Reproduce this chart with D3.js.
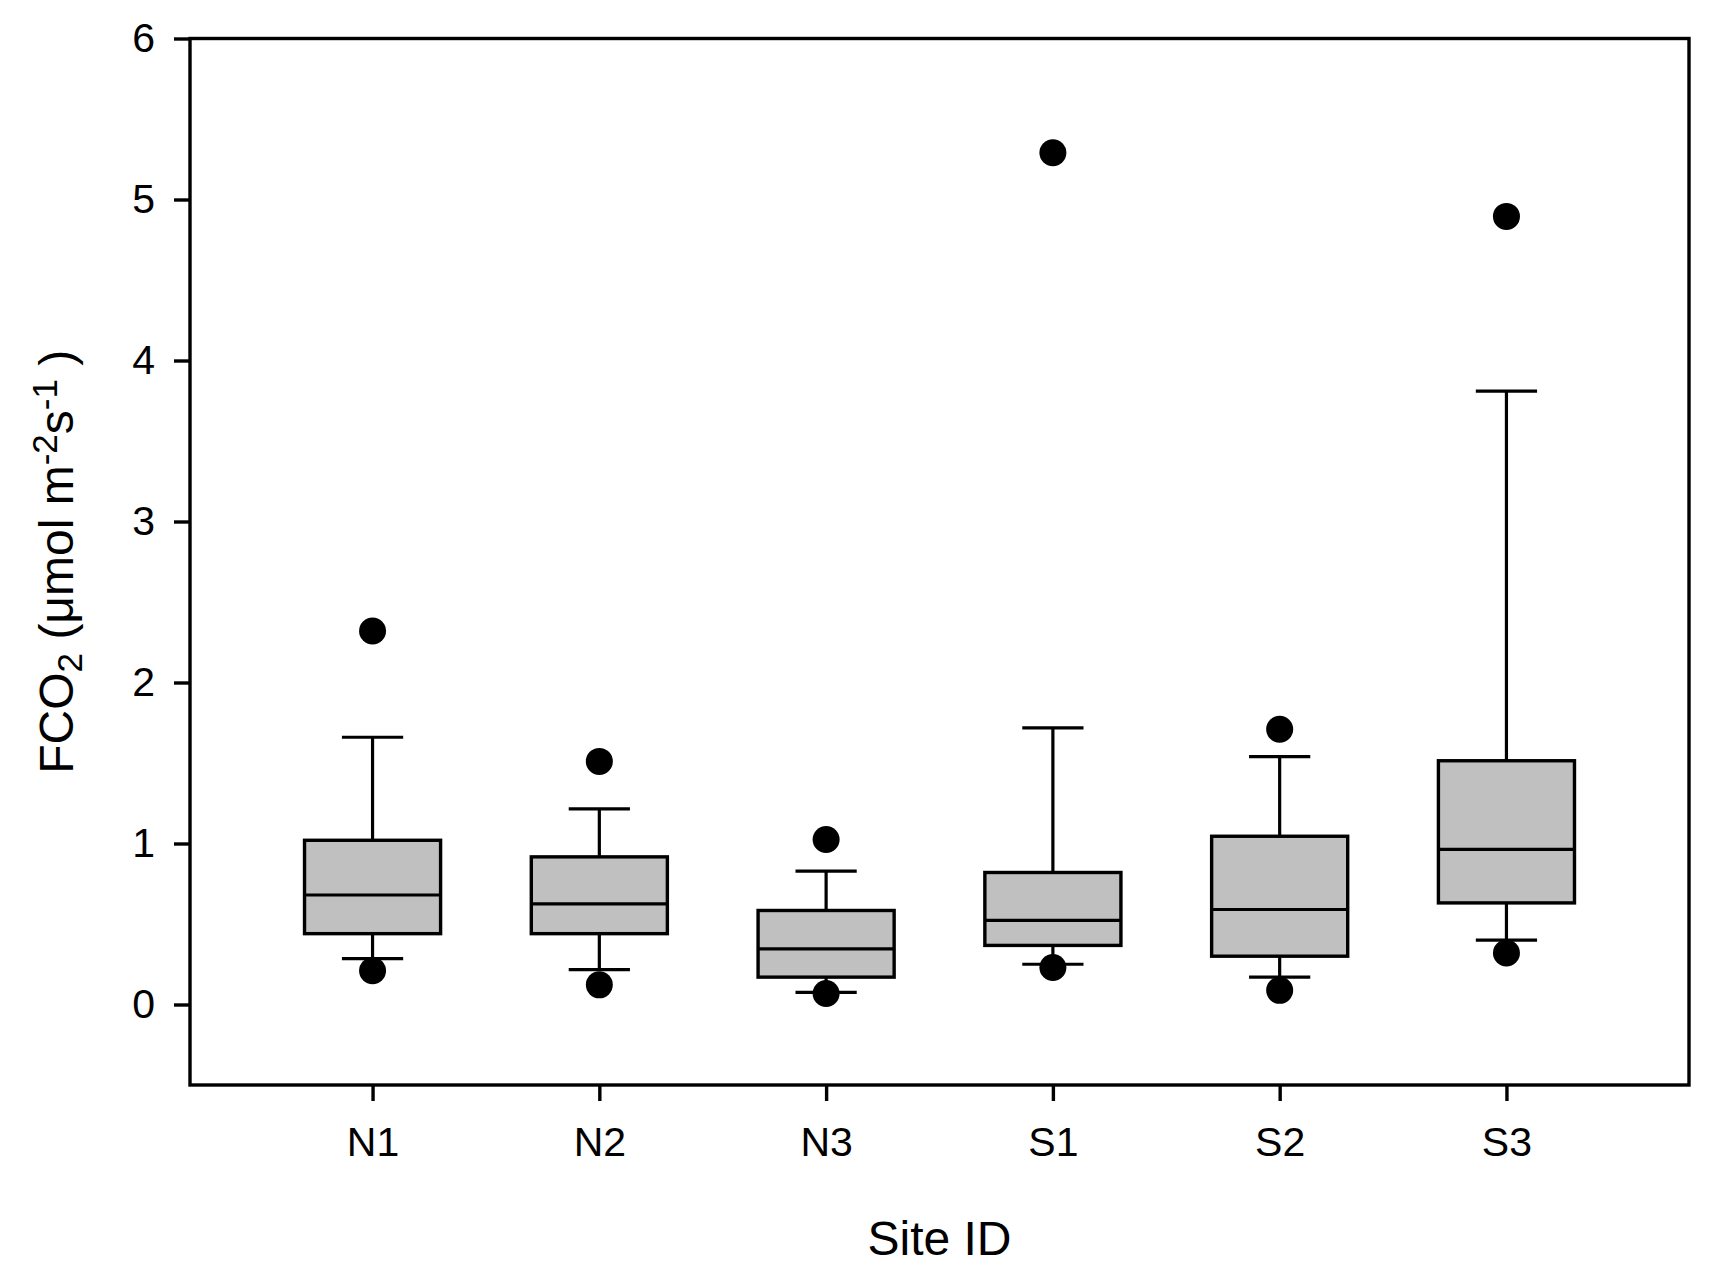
<!DOCTYPE html>
<html><head><meta charset="utf-8">
<script src="https://cdn.jsdelivr.net/npm/d3@7"></script>
<style>body{margin:0;background:#fff}svg{display:block}</style>
</head><body>
<script>
const sites   = ["N1","N2","N3","S1","S2","S3"];
const whiskLo = [0.285,0.217,0.075,0.25,0.17,0.40];
const q1      = [0.44,0.44,0.17,0.367,0.30,0.631];
const median  = [0.68,0.625,0.346,0.523,0.59,0.964];
const q3      = [1.02,0.917,0.584,0.82,1.045,1.514];
const whiskHi = [1.66,1.215,0.828,1.718,1.54,3.81];
const outLo   = [0.21,0.122,0.068,0.23,0.088,0.32];
const outHi   = [2.32,1.51,1.025,5.29,1.71,4.895];
const yTicks  = [0,1,2,3,4,5,6];

const W=1715,H=1276;
const m={l:190,r:1689,t:38.5,b:1085};
const svg=d3.select("body").append("svg").attr("width",W).attr("height",H);
const x=d3.scalePoint().domain(sites).range([m.l,m.r]).padding(0.805);
const y=d3.scaleLinear().domain([-0.5,6]).range([m.b,m.t]);
const step=x.step(), bw=step*0.6, cw=step*0.27;
const font="'Liberation Sans', Arial, sans-serif";

const data=sites.map((s,i)=>({s,lo:whiskLo[i],q1:q1[i],md:median[i],q3:q3[i],hi:whiskHi[i],ol:outLo[i],oh:outHi[i]}));
const g=svg.append("g");
const bx=g.selectAll("g.b").data(data).join("g").attr("stroke","#000").attr("stroke-width",3.2);
bx.append("line").attr("x1",d=>x(d.s)).attr("x2",d=>x(d.s)).attr("y1",d=>y(d.hi)).attr("y2",d=>y(d.q3));
bx.append("line").attr("x1",d=>x(d.s)).attr("x2",d=>x(d.s)).attr("y1",d=>y(d.q1)).attr("y2",d=>y(d.lo));
bx.append("line").attr("x1",d=>x(d.s)-cw/2).attr("x2",d=>x(d.s)+cw/2).attr("y1",d=>y(d.hi)).attr("y2",d=>y(d.hi));
bx.append("line").attr("x1",d=>x(d.s)-cw/2).attr("x2",d=>x(d.s)+cw/2).attr("y1",d=>y(d.lo)).attr("y2",d=>y(d.lo));
bx.append("rect").attr("x",d=>x(d.s)-bw/2).attr("width",bw).attr("y",d=>y(d.q3)).attr("height",d=>y(d.q1)-y(d.q3)).attr("fill","#c0c0c0").attr("stroke-width",3.4);
bx.append("line").attr("x1",d=>x(d.s)-bw/2).attr("x2",d=>x(d.s)+bw/2).attr("y1",d=>y(d.md)).attr("y2",d=>y(d.md));
bx.append("circle").attr("cx",d=>x(d.s)).attr("cy",d=>y(d.ol)).attr("r",13.5).attr("fill","#000").attr("stroke","none");
bx.append("circle").attr("cx",d=>x(d.s)).attr("cy",d=>y(d.oh)).attr("r",13.5).attr("fill","#000").attr("stroke","none");

// frame
svg.append("rect").attr("x",m.l).attr("y",m.t).attr("width",m.r-m.l).attr("height",m.b-m.t).attr("fill","none").attr("stroke","#000").attr("stroke-width",3.4);

const ya=svg.append("g").attr("transform",`translate(${m.l},0)`).call(d3.axisLeft(y).tickValues(yTicks).tickSize(16).tickPadding(19).tickFormat(d3.format("d")));
const xa=svg.append("g").attr("transform",`translate(0,${m.b})`).call(d3.axisBottom(x).tickSize(16).tickPadding(26));
[ya,xa].forEach(a=>{a.select(".domain").remove();a.selectAll("line").attr("stroke","#000").attr("stroke-width",3.4);
  a.selectAll("text").attr("fill","#000").style("font-family",font).style("font-size","41px");});

svg.append("text").attr("x",(m.l+m.r)/2).attr("y",1255).attr("text-anchor","middle").style("font-family",font).style("font-size","48px").text("Site ID");

const yl=svg.append("text").attr("transform",`translate(73,${(m.t+m.b)/2}) rotate(-90)`).attr("text-anchor","middle").style("font-family",font).style("font-size","48px");
yl.append("tspan").text("FCO");
yl.append("tspan").attr("baseline-shift","-25%").style("font-size","35px").text("2");
yl.append("tspan").text(" (μmol m");
yl.append("tspan").attr("baseline-shift","45%").style("font-size","35px").text("-2");
yl.append("tspan").text("s");
yl.append("tspan").attr("baseline-shift","45%").style("font-size","35px").text("-1");
yl.append("tspan").text(" )");
</script>
</body></html>
